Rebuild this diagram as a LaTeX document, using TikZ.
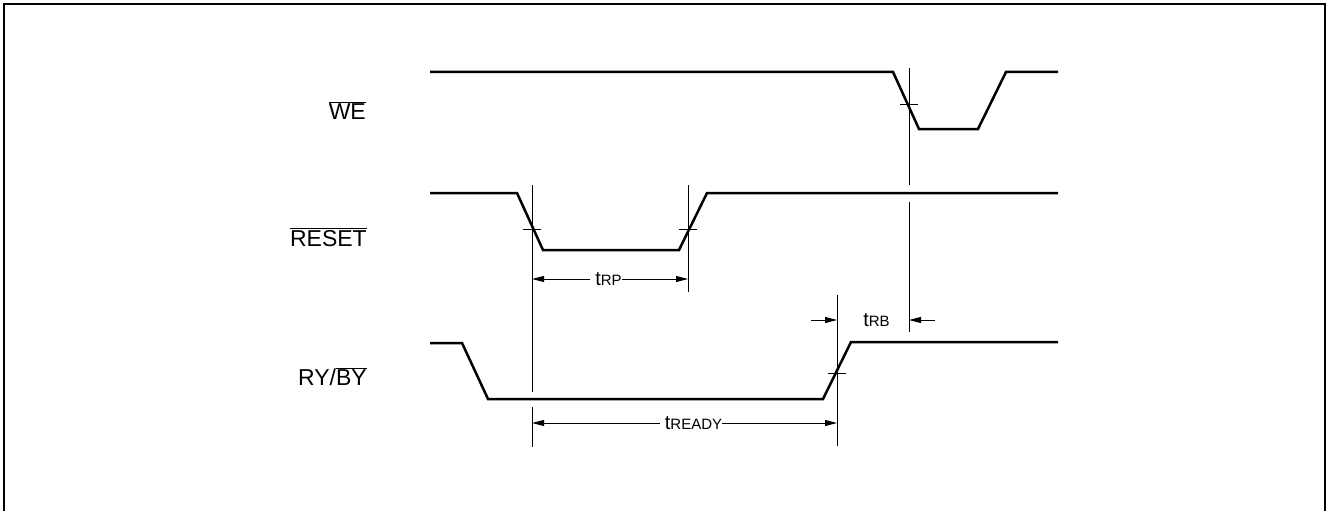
\documentclass[tikz,border=0pt]{standalone}
\usepackage{fontspec}
\setmainfont{Liberation Sans}
\usetikzlibrary{arrows.meta}
\newcommand\siglabel[1]{{\fontsize{23}{26}\selectfont #1}}
\newcommand\tlab[1]{{\kern5pt\fontsize{20}{20}\selectfont t}{\fontsize{15}{15}\selectfont #1}}
\newcommand\ovl[1]{$\overline{\hbox{#1}}$}
\begin{document}
\begin{tikzpicture}[x=1pt,y=-1pt,
  sig/.style={line width=2.5pt, line join=miter},
  guide/.style={line width=1pt},
  tick/.style={line width=1pt},
  dim/.style={line width=1pt, -{Triangle[length=12pt,width=6pt]}},
  siglbl/.style={anchor=base east, inner sep=0pt},
  dimlbl/.style={inner sep=0pt}]
\useasboundingbox (0,0) rectangle (1326,511);
\draw[line width=2pt] (4,530) -- (4,4) -- (1325,4) -- (1325,530);

% signal names
\node[siglbl] (lwe) at (366,119) {\siglabel{\ovl{WE}}};
\node[siglbl] (lreset) at (367,246) {\siglabel{\ovl{RESET}}};
\node[siglbl] (lryby) at (367,385) {\siglabel{RY/\ovl{BY}}};

% waveforms
\draw[sig] (430,72) -- (893,72) -- (919,129) -- (978,129) -- (1006,72) -- (1058,72);
\draw[sig] (430,193) -- (517,193) -- (543,250) -- (679,250) -- (707,193) -- (1058,193);
\draw[sig] (430,343) -- (462,343) -- (488,399) -- (823,399) -- (851,342) -- (1058,342);

% guide lines
\coordinate (a1) at (532,185); \coordinate (a2) at (532,392);
\coordinate (a3) at (532,407); \coordinate (a4) at (532,447);
\coordinate (b1) at (688,185); \coordinate (b2) at (688,292);
\coordinate (c1) at (909,68);  \coordinate (c2) at (909,185);
\coordinate (c3) at (909,202); \coordinate (c4) at (909,332);
\coordinate (d1) at (837,295); \coordinate (d2) at (837,446);
\draw[guide] (a1) -- (a2);
\draw[guide] (a3) -- (a4);
\draw[guide] (b1) -- (b2);
\draw[guide] (c1) -- (c2);
\draw[guide] (c3) -- (c4);
\draw[guide] (d1) -- (d2);

% crossing ticks
\draw[tick] (900,104) -- (918,104);
\draw[tick] (523,229) -- (541,229);
\draw[tick] (679,229) -- (697,229);
\draw[tick] (828,373) -- (846,373);

% tRP
\node[dimlbl] (trp) at (606,279) {\tlab{RP}};
\draw[dim] (trp.west) -- (a1 |- trp.west);
\draw[dim] (trp.east) -- (b1 |- trp.east);

% tREADY
\node[dimlbl] (tready) at (691,423) {\tlab{READY}};
\draw[dim] (tready.west) -- (a3 |- tready.west);
\draw[dim] (tready.east) -- (d1 |- tready.east);

% tRB
\node[dimlbl] (trb) at (874,320) {\tlab{RB}};
\coordinate (rbl) at (811,320);
\coordinate (rbr) at (935,320);
\draw[dim] (rbl) -- (d1 |- rbl);
\draw[dim] (rbr) -- (c3 |- rbr);
\end{tikzpicture}
\end{document}
